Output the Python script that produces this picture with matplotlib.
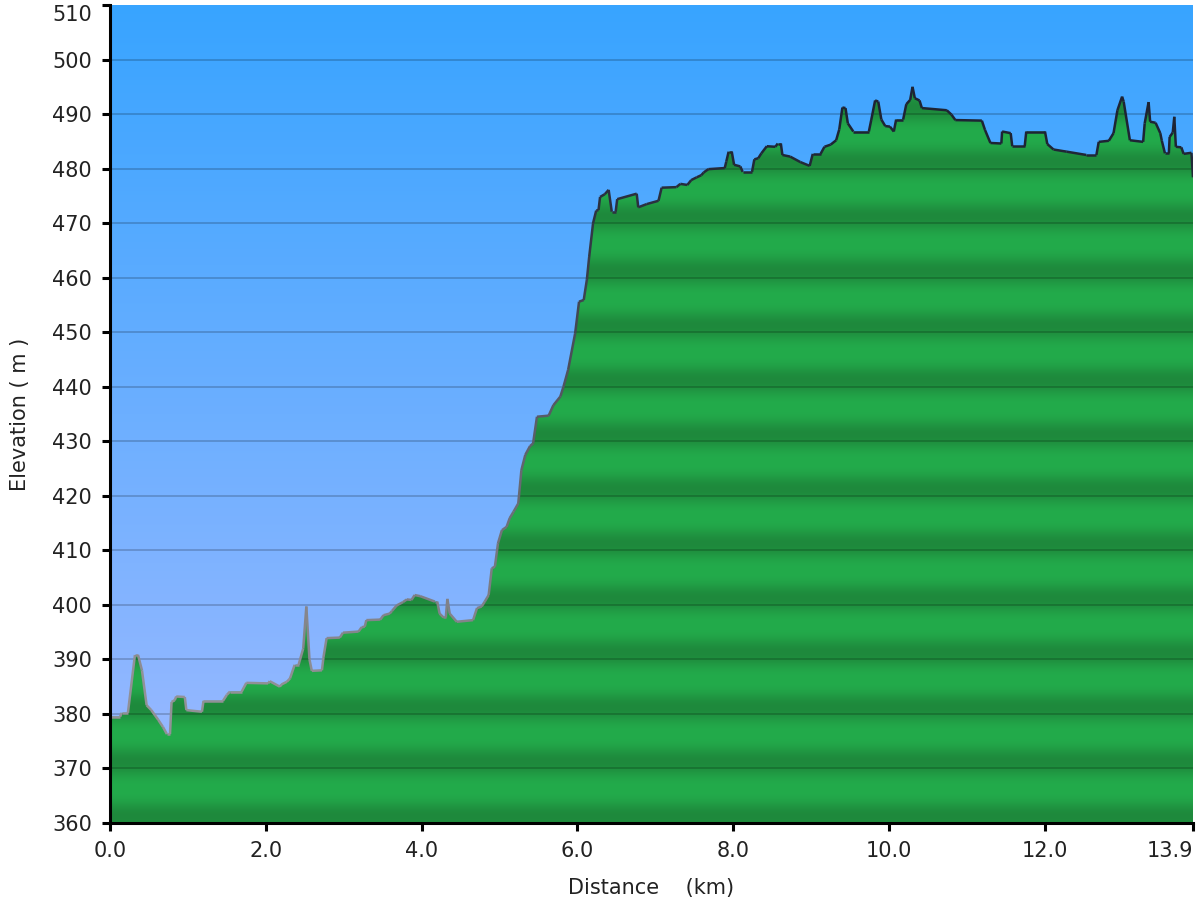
import numpy as np
import matplotlib
matplotlib.use('Agg')
import matplotlib.pyplot as plt
from matplotlib.collections import LineCollection

# Profile: distance (km) and elevation (m)
distance = [0.00, 0.13, 0.15, 0.23, 0.32, 0.36, 0.41, 0.47, 0.53, 0.62, 0.68, 0.73, 0.77, 0.79,
            0.83, 0.85, 0.96, 0.98, 1.18, 1.20, 1.45, 1.50, 1.54, 1.69, 1.75, 2.03, 2.05, 2.18,
            2.20, 2.27, 2.31, 2.37, 2.42, 2.48, 2.52, 2.56, 2.59, 2.72, 2.74, 2.78, 2.95, 2.99,
            3.19, 3.23, 3.27, 3.29, 3.47, 3.51, 3.59, 3.62, 3.68, 3.76, 3.81, 3.87, 3.91, 3.98,
            4.17, 4.20, 4.23, 4.28, 4.31, 4.33, 4.36, 4.45, 4.66, 4.71, 4.77, 4.81, 4.86, 4.90,
            4.94, 4.98, 5.03, 5.09, 5.13, 5.18, 5.24, 5.28, 5.33, 5.39, 5.43, 5.48, 5.63, 5.69,
            5.78, 5.82, 5.88, 5.97, 6.02, 6.08, 6.12, 6.15, 6.20, 6.24, 6.27, 6.29, 6.35, 6.40,
            6.44, 6.49, 6.51, 6.76, 6.78, 6.89, 7.04, 7.08, 7.27, 7.32, 7.41, 7.46, 7.53, 7.59,
            7.62, 7.68, 7.89, 7.91, 7.94, 7.98, 8.01, 8.09, 8.12, 8.24, 8.27, 8.32, 8.36, 8.43,
            8.54, 8.57, 8.61, 8.63, 8.73, 8.86, 8.98, 9.02, 9.12, 9.17, 9.25, 9.32, 9.36, 9.40,
            9.44, 9.47, 9.54, 9.74, 9.77, 9.82, 9.86, 9.90, 9.95, 10.01, 10.06, 10.09, 10.18,
            10.22, 10.27, 10.30, 10.33, 10.39, 10.42, 10.74, 10.80, 10.85, 11.19, 11.23, 11.30,
            11.44, 11.45, 11.56, 11.58, 11.74, 11.76, 12.00, 12.03, 12.11, 12.28, 12.53, 12.66,
            12.69, 12.82, 12.88, 12.93, 12.99, 13.01, 13.09, 13.26, 13.28, 13.33, 13.35, 13.42,
            13.48, 13.50, 13.54, 13.59, 13.60, 13.64, 13.66, 13.68, 13.75, 13.78, 13.88, 13.90]
elevation = [379.5, 379.5, 380.2, 380.2, 390.8, 390.8, 388.0, 381.6, 380.7, 378.9, 377.6, 376.3, 376.3, 382.2,
             382.5, 383.2, 383.1, 380.7, 380.4, 382.4, 382.4, 383.5, 384.1, 384.1, 385.7, 385.6, 386.0, 385.0,
             385.4, 385.9, 386.5, 389.0, 389.0, 392.0, 399.7, 390.0, 387.9, 388.0, 390.4, 393.9, 394.0, 394.9,
             395.1, 395.9, 396.0, 397.2, 397.3, 398.1, 398.4, 398.9, 399.9, 400.5, 401.0, 400.9, 401.8, 401.6,
             400.6, 400.6, 398.4, 397.7, 397.7, 401.1, 398.4, 396.9, 397.2, 399.4, 399.7, 400.6, 401.8, 406.7,
             407.0, 411.3, 413.7, 414.3, 415.9, 417.1, 418.6, 424.7, 427.5, 429.1, 429.6, 434.5, 434.7, 436.6,
             438.2, 440.0, 443.1, 449.8, 455.6, 455.9, 459.6, 463.8, 470.0, 472.3, 472.4, 474.8, 475.3, 476.1,
             472.1, 472.1, 474.4, 475.4, 472.9, 473.5, 474.1, 476.5, 476.6, 477.2, 477.0, 477.9, 478.4, 478.8,
             479.3, 479.9, 480.1, 481.3, 483.1, 483.1, 480.7, 480.4, 479.4, 479.4, 481.7, 481.9, 482.8, 484.1,
             484.0, 484.6, 484.6, 482.5, 482.2, 481.2, 480.5, 482.7, 482.7, 484.0, 484.4, 485.2, 487.2, 491.2,
             491.1, 488.3, 486.8, 486.8, 488.9, 492.5, 492.3, 489.0, 487.8, 487.7, 486.8, 489.0, 489.0,
             491.8, 492.6, 495.0, 492.9, 492.5, 491.1, 490.7, 489.9, 488.9, 488.8, 487.1, 484.7,
             484.6, 486.8, 486.5, 484.1, 484.1, 486.8, 486.8, 484.5, 483.5, 483.1, 482.5, 482.5,
             484.9, 485.1, 486.5, 490.7, 493.2, 492.3, 485.2, 484.9, 488.3, 492.2, 488.6, 488.4,
             486.5, 485.1, 482.8, 482.8, 485.8, 486.6, 489.5, 484.0, 483.9, 482.7, 482.9, 478.4]

xTicks = [0, 2, 4, 6, 8, 10, 12, 13.9]
yTicks = list(range(360, 511, 10))
xMax = 13.9
yMin, yMax = 360, 510

x = np.array(distance)
y = np.array(elevation)

fig = plt.figure(figsize=(12, 9), dpi=100)
ax = fig.add_axes([110/1200, 1 - 823/900, 1083/1200, 818/900])

# Sky gradient behind the profile
skyTop = np.array([56, 164, 255]) / 255
skyBottom = np.array([160, 186, 255]) / 255
t = np.linspace(0, 1, 400)[:, None]
sky = skyTop * (1 - t) + skyBottom * t
ax.imshow(sky[:, None, :], extent=[0, xMax, yMin, yMax], aspect='auto', zorder=0)

# Green fill with a soft band every 10 m
rows = np.linspace(yMax, yMin, 1500)
phase = ((rows - yMin) % 10) / 10
shade = (0.5 + 0.5 * np.cos(2 * np.pi * (phase - 0.12))) ** 1.4
light = np.array([35, 171, 75]) / 255
dark = np.array([30, 137, 60]) / 255
green = light * (1 - shade[:, None]) + dark * shade[:, None]
greenImg = ax.imshow(green[:, None, :], extent=[0, xMax, yMin, yMax], aspect='auto', zorder=1)
poly = ax.fill_between(x, yMin, y, facecolor='none', edgecolor='none', zorder=1)
clip = poly.get_paths()[0]
greenImg.set_clip_path(clip, transform=ax.transData)

# Horizontal grid lines
for v in yTicks[1:-1]:
    ax.axhline(v, color='black', alpha=0.2, linewidth=1.3, zorder=2)

# Outline, grey low and dark high
pts = np.column_stack([x, y]).reshape(-1, 1, 2)
segs = np.concatenate([pts[:-1], pts[1:]], axis=1)
mid = (y[:-1] + y[1:]) / 2
f = np.clip((mid - 385) / (485 - 385), 0, 1)[:, None]
lowCol = np.array([145, 145, 150]) / 255
highCol = np.array([30, 36, 52]) / 255
cols = lowCol * (1 - f) + highCol * f
ax.add_collection(LineCollection(segs, colors=cols, linewidths=1.8, zorder=3))

ax.set_xlim(0, xMax)
ax.set_ylim(yMin, yMax)
ax.set_xticks(xTicks)
ax.set_xticklabels(['%.1f' % v for v in xTicks])
ax.set_yticks(yTicks)

for side in ['top', 'right']:
    ax.spines[side].set_visible(False)
for side in ['left', 'bottom']:
    ax.spines[side].set_linewidth(2.2)
    ax.spines[side].set_color('black')
    ax.spines[side].set_zorder(5)
ax.tick_params(axis='both', length=6, width=2.2, labelsize=15, colors='black', labelcolor='#222222', pad=7)

# keep the end labels inside the picture
ax.get_xticklabels()[-1].set_horizontalalignment('right')
ax.get_yticklabels()[-1].set_verticalalignment('top')

ax.set_xlabel('Distance    (km)', fontsize=15, color='#222222', labelpad=12)
ax.set_ylabel('Elevation ( m )', fontsize=15, color='#222222', labelpad=16)

fig.savefig('out.png', dpi=100)
